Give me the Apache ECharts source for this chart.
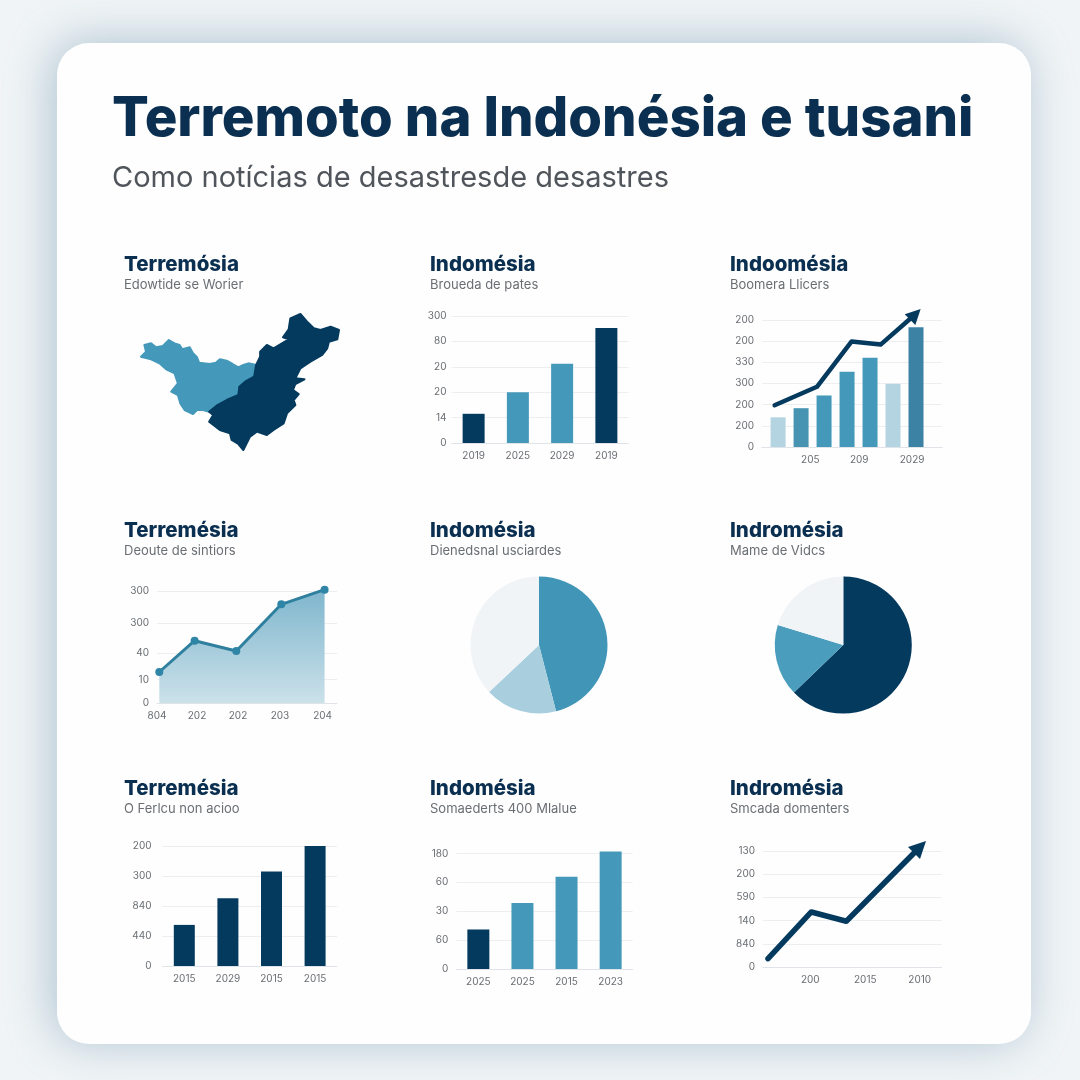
<!DOCTYPE html>
<html>
<head>
<meta charset="utf-8">
<script src="https://cdn.jsdelivr.net/npm/echarts@6/dist/echarts.min.js"></script>
<style>
  html, body { margin: 0; width: 1080px; height: 1080px; overflow: hidden; }
  body { background: #f0f4f6; }
  #card {
    position: absolute; left: 57px; top: 43px; width: 974px; height: 1001px;
    background: #fefefe; border-radius: 32px;
    box-shadow: -5px -2px 46px rgba(100, 140, 168, 0.46);
  }
  #main { position: absolute; left: 0; top: 0; width: 1080px; height: 1080px; }
</style>
</head>
<body>
<div id="card"></div>
<div id="main"></div>
<script>
  // text
  const mainTitle = 'Terremoto na Indonésia e tusani';
  const mainSubtitle = 'Como notícias de desastresde desastres';
  const panelTitles = [
    'Terremósia', 'Indomésia', 'Indoomésia',
    'Terremésia', 'Indomésia', 'Indromésia',
    'Terremésia', 'Indomésia', 'Indromésia',
  ];
  const panelSubtitles = [
    'Edowtide se Worier', 'Broueda de pates', 'Boomera Llicers',
    'Deoute de sintiors', 'Dienedsnal usciardes', 'Mame de Vidcs',
    'O Ferlcu non acioo', 'Somaederts 400 Mlalue', 'Smcada domenters',
  ];

  // map outlines
  const mapWest = [[105,315],[125,310],[140,322],[160,318],[178,300],[195,310],[210,315],[218,328],[240,322],[250,340],[262,352],[268,368],[300,372],[318,368],[330,358],[350,362],[368,372],[385,382],[400,375],[415,370],[438,375],[432,410],[405,425],[388,440],[385,465],[350,480],[320,497],[298,515],[280,510],[262,510],[250,522],[225,510],[212,490],[205,465],[185,455],[205,430],[195,400],[170,388],[150,370],[125,358],[95,350],[110,335]];
  const mapEast = [[438,375],[450,350],[450,335],[470,315],[490,325],[515,310],[535,298],[518,292],[535,268],[540,235],[570,222],[590,245],[610,265],[630,270],[660,260],[685,270],[680,298],[655,305],[650,325],[635,345],[600,365],[570,385],[555,415],[582,418],[555,432],[548,450],[565,462],[550,480],[555,495],[530,520],[520,550],[490,570],[470,585],[440,575],[420,590],[400,630],[385,612],[365,600],[360,580],[330,570],[298,545],[310,525],[298,515],[320,497],[350,480],[385,465],[388,440],[405,425],[432,410]];

  // bars, top row centre
  const barsAYears = ['2019', '2025', '2029', '2019'];
  const barsALabels = ['0', '14', '20', '20', '80', '300'];
  const barsAValues = [1.15, 2.0, 3.12, 4.53];

  // bars + line, top row right
  const comboLabels = ['0', '200', '200', '300', '330', '200', '200'];
  const comboBarX = [1, 2, 3, 4, 5, 6, 7];
  const comboBarValues = [1.4, 1.83, 2.43, 3.55, 4.21, 2.98, 5.65];
  const comboLineX = [0.85, 2.69, 4.2, 5.46, 6.97];
  const comboLineValues = [1.97, 2.84, 4.98, 4.83, 6.26];
  const comboXTicks = [2.4, 4.53, 6.83];
  const comboXLabels = ['205', '209', '2029'];

  // area, middle row left
  const areaYTicks = [0, 23.3, 50, 80, 111.7];
  const areaYLabels = ['0', '10', '40', '300', '300'];
  const areaX = [2.3, 37.6, 79.3, 124.3, 167.6];
  const areaValues = [31, 62.3, 52, 98.7, 113.3];
  const areaXTicks = [0, 40, 81, 123, 165.6];
  const areaXLabels = ['804', '202', '202', '203', '204'];

  // pies
  const pieAValues = [46, 17, 37];
  const pieBValues = [62.8, 16.9, 20.3];

  // bars, bottom row
  const barsBYears = ['2015', '2029', '2015', '2015'];
  const barsBLabels = ['0', '440', '840', '300', '200'];
  const barsBValues = [1.37, 2.26, 3.15, 4.0];
  const barsCYears = ['2025', '2025', '2015', '2023'];
  const barsCLabels = ['0', '60', '30', '60', '180'];
  const barsCValues = [1.37, 2.29, 3.2, 4.07];

  // line with arrow, bottom row right
  const arrowLabels = ['0', '840', '140', '590', '200', '130'];
  const arrowX = [5, 48.3, 83.3, 157];
  const arrowValues = [0.36, 2.37, 1.97, 5.17];
  const arrowXTicks = [47.3, 102.3, 156.7];
  const arrowXLabels = ['200', '2015', '2010'];

  const DARK = '#053a5f';
  const TEAL = '#4499ba';
  const LIGHT = '#b4d4e1';
  const PALE = '#f1f4f7';
  const FONT = 'Inter';

  const chart = echarts.init(document.getElementById('main'));

  function outline(points) {
    return [points.map(function (p) { return [p[0], -p[1]]; })];
  }
  echarts.registerMap('quake', {
    type: 'FeatureCollection',
    features: [
      { type: 'Feature', properties: { name: 'west' }, geometry: { type: 'Polygon', coordinates: outline(mapWest) } },
      { type: 'Feature', properties: { name: 'east' }, geometry: { type: 'Polygon', coordinates: outline(mapEast) } },
    ],
  });

  const axisText = { color: '#6a6e73', fontSize: 10, fontFamily: FONT };

  function range(n) {
    return Array.from({ length: n }, function (_, i) { return i; });
  }

  function lookup(ticks, labels) {
    return function (value) {
      const i = ticks.indexOf(value);
      return i < 0 ? '' : labels[i];
    };
  }

  function yAxisOf(gridIndex, ticks, labels, max, margin) {
    return {
      type: 'value', gridIndex: gridIndex, min: 0, max: max,
      axisLine: { show: false },
      axisTick: { show: false, customValues: ticks },
      axisLabel: Object.assign({}, axisText, { margin: margin, customValues: ticks, formatter: lookup(ticks, labels) }),
      splitLine: { show: true, lineStyle: { color: '#eceef1', width: 1 } },
    };
  }

  function xCategory(gridIndex, data) {
    return {
      type: 'category', gridIndex: gridIndex, data: data,
      axisLine: { lineStyle: { color: '#e0e3e7' } },
      axisTick: { show: false },
      axisLabel: Object.assign({}, axisText, { margin: 8 }),
      splitLine: { show: false },
    };
  }

  function xValue(gridIndex, min, max, ticks, labels) {
    return {
      type: 'value', gridIndex: gridIndex, min: min, max: max,
      axisLine: { onZero: false, lineStyle: { color: '#e0e3e7' } },
      axisTick: { show: false, customValues: ticks },
      axisLabel: Object.assign({}, axisText, { margin: 8, customValues: ticks, formatter: lookup(ticks, labels) }),
      splitLine: { show: false },
    };
  }

  function pairs(xs, ys) {
    return xs.map(function (x, i) { return [x, ys[i]]; });
  }

  function withArrow(points, rotate, size) {
    return points.map(function (p, i) {
      if (i < points.length - 1) return { value: p };
      return { value: p, symbol: 'triangle', symbolSize: size, symbolRotate: rotate };
    });
  }

  function barColors(values, colors) {
    return values.map(function (v, i) {
      return { value: v, itemStyle: { color: colors[i] } };
    });
  }

  const textLefts = [124, 430, 730];
  const textTops = [254, 520, 778];
  const titles = [
    { text: mainTitle, left: 112, top: 92, padding: 0, textStyle: { color: '#0a2f50', fontSize: 54.5, fontWeight: 800, fontFamily: FONT } },
    { text: mainSubtitle, left: 112, top: 164, padding: 0, textStyle: { color: '#50555b', fontSize: 29, fontWeight: 400, fontFamily: FONT } },
  ];
  panelTitles.forEach(function (t, i) {
    titles.push({
      text: t, subtext: panelSubtitles[i],
      left: textLefts[i % 3], top: textTops[Math.floor(i / 3)], padding: 0, itemGap: 4,
      textStyle: { color: '#0a2f50', fontSize: 20.5, fontWeight: 800, fontFamily: FONT },
      subtextStyle: { color: '#6a6e73', fontSize: 13, fontWeight: 400, fontFamily: FONT },
    });
  });

  const option = {
    animation: false,
    backgroundColor: 'transparent',
    title: titles,
    grid: [
      { left: 451.5, top: 316, width: 177, height: 127 },
      { left: 762, top: 306, width: 180, height: 141 },
      { left: 157, top: 588, width: 180, height: 115 },
      { left: 162.5, top: 846, width: 174.4, height: 120 },
      { left: 456.3, top: 851, width: 176.4, height: 118 },
      { left: 763, top: 840, width: 178.7, height: 127 },
    ],
    xAxis: [
      xCategory(0, barsAYears),
      xValue(1, 0.3, 8.13, comboXTicks, comboXLabels),
      xValue(2, 0, 180, areaXTicks, areaXLabels),
      xCategory(3, barsBYears),
      xCategory(4, barsCYears),
      xValue(5, 0, 178.7, arrowXTicks, arrowXLabels),
    ],
    yAxis: [
      yAxisOf(0, range(6), barsALabels, 5, 5),
      yAxisOf(1, range(7), comboLabels, 6.65, 8),
      yAxisOf(2, areaYTicks, areaYLabels, 115, 8),
      yAxisOf(3, range(5), barsBLabels, 4, 11),
      yAxisOf(4, range(5), barsCLabels, 4.09, 8),
      yAxisOf(5, range(6), arrowLabels, 5.47, 8),
    ],
    series: [
      {
        type: 'map', map: 'quake', aspectScale: 1, silent: true,
        left: 141, top: 314, width: 198, height: 136,
        label: { show: false },
        data: [
          { name: 'west', itemStyle: { areaColor: TEAL, borderColor: TEAL, borderWidth: 2, borderJoin: 'round' } },
          { name: 'east', z: 3, itemStyle: { areaColor: DARK, borderColor: DARK, borderWidth: 2, borderJoin: 'round' } },
        ],
      },
      {
        type: 'bar', xAxisIndex: 0, yAxisIndex: 0, barWidth: 22,
        data: barColors(barsAValues, [DARK, TEAL, TEAL, DARK]),
      },
      {
        type: 'bar', xAxisIndex: 1, yAxisIndex: 1, barWidth: 15,
        data: pairs(comboBarX, comboBarValues).map(function (p, i) {
          const colors = [LIGHT, '#4793b2', TEAL, TEAL, TEAL, LIGHT, '#3b82a5'];
          return { value: p, itemStyle: { color: colors[i] } };
        }),
      },
      {
        type: 'line', xAxisIndex: 1, yAxisIndex: 1, symbol: 'none', showSymbol: true, z: 5,
        lineStyle: { color: DARK, width: 4.5, cap: 'round', join: 'round' },
        itemStyle: { color: DARK },
        data: withArrow(pairs(comboLineX, comboLineValues), -45, 15),
      },
      {
        type: 'line', xAxisIndex: 2, yAxisIndex: 2, symbol: 'circle', symbolSize: 8,
        lineStyle: { color: '#2f7f9f', width: 3 },
        itemStyle: { color: '#2f85a6' },
        areaStyle: {
          opacity: 1,
          color: new echarts.graphic.LinearGradient(0, 0, 0, 1, [
            { offset: 0, color: '#7fb6cd' },
            { offset: 1, color: '#cbe1ea' },
          ]),
        },
        data: pairs(areaX, areaValues),
      },
      {
        type: 'pie', center: [539, 645], radius: 68.5, startAngle: 90, clockwise: true, silent: true,
        label: { show: false }, labelLine: { show: false },
        data: barColors(pieAValues, ['#4196b8', '#a9cfdf', PALE]),
      },
      {
        type: 'pie', center: [843.3, 645], radius: 68.5, startAngle: 90, clockwise: true, silent: true,
        label: { show: false }, labelLine: { show: false },
        data: barColors(pieBValues, [DARK, '#4a9dbd', PALE]),
      },
      {
        type: 'bar', xAxisIndex: 3, yAxisIndex: 3, barWidth: 21,
        itemStyle: { color: DARK },
        data: barsBValues,
      },
      {
        type: 'bar', xAxisIndex: 4, yAxisIndex: 4, barWidth: 22,
        data: barColors(barsCValues, [DARK, TEAL, TEAL, TEAL]),
      },
      {
        type: 'line', xAxisIndex: 5, yAxisIndex: 5, symbol: 'none', showSymbol: true, z: 5,
        lineStyle: { color: DARK, width: 5.5, cap: 'round', join: 'round' },
        itemStyle: { color: DARK },
        data: withArrow(pairs(arrowX, arrowValues), -45, 17),
      },
    ],
  };

  chart.setOption(option);
</script>
</body>
</html>
